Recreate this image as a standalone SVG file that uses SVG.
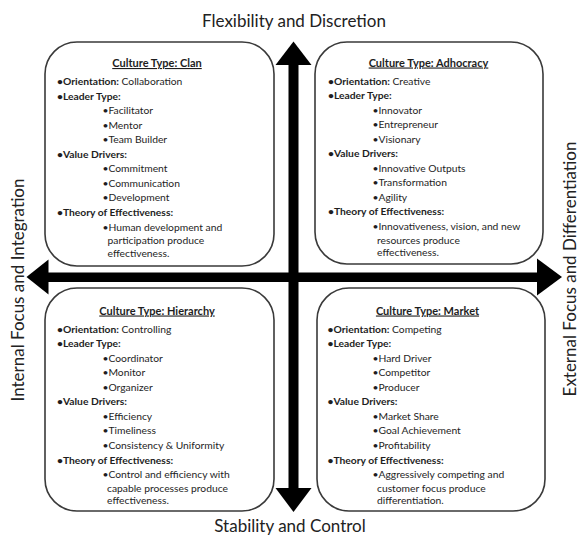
<svg xmlns="http://www.w3.org/2000/svg" width="581" height="536" viewBox="0 0 581 536">
<style>
.box{fill:#fff;stroke:#3a3a3a;stroke-width:1.6}
text{font-family:Lato,"Liberation Sans",sans-serif;fill:#1e1e1e}
.t{font-size:11px;font-weight:bold;text-anchor:middle;text-decoration:underline}
.b{font-size:10.3px}
.h{font-weight:bold}
.ax{font-size:17px;fill:#222}
.arr{fill:#000}
</style>
<rect width="581" height="536" fill="#fff"/>
<g id="connectors">
<rect class="arr" x="288.5" y="62" width="10" height="430"/>
<polygon class="arr" points="293.5,41.5 311.5,65 275.5,65"/>
<polygon class="arr" points="293.5,512 311.5,488 275.5,488"/>
<rect class="arr" x="45" y="272.5" width="495" height="9.5"/>
<polygon class="arr" points="26.5,277 48.5,259.5 48.5,294.5"/>
<polygon class="arr" points="562,277 537,258.5 537,295.5"/>
</g>
<g id="clan">
<rect class="box" x="45" y="42" width="229" height="224" rx="32"/>
<text class="t" x="157" y="67">Culture Type: Clan</text>
<g class="b">
<text x="57" y="85"><tspan class="h">•Orientation:</tspan> Collaboration</text>
<text x="57" y="99.5" class="h">•Leader Type:</text>
<text x="102.5" y="114">•Facilitator</text>
<text x="102.5" y="128.5">•Mentor</text>
<text x="102.5" y="143">•Team Builder</text>
<text x="57" y="157.5" class="h">•Value Drivers:</text>
<text x="102.5" y="172">•Commitment</text>
<text x="102.5" y="186.5">•Communication</text>
<text x="102.5" y="201">•Development</text>
<text x="57" y="215.5" class="h">•Theory of Effectiveness:</text>
<text x="102.5" y="230.5">•Human development and</text>
<text x="107.5" y="244">participation produce</text>
<text x="107.5" y="256.5">effectiveness.</text>
</g>
</g>
<g id="adhocracy">
<rect class="box" x="315" y="42" width="228" height="222" rx="32"/>
<text class="t" x="428.5" y="66.5">Culture Type: Adhocracy</text>
<g class="b">
<text x="328" y="84.5"><tspan class="h">•Orientation:</tspan> Creative</text>
<text x="328" y="99" class="h">•Leader Type:</text>
<text x="372.5" y="113.5">•Innovator</text>
<text x="372.5" y="128">•Entrepreneur</text>
<text x="372.5" y="142.5">•Visionary</text>
<text x="328" y="157" class="h">•Value Drivers:</text>
<text x="372.5" y="171.5">•Innovative Outputs</text>
<text x="372.5" y="186">•Transformation</text>
<text x="372.5" y="200.5">•Agility</text>
<text x="328" y="215" class="h">•Theory of Effectiveness:</text>
<text x="372.5" y="230">•Innovativeness, vision, and new</text>
<text x="377" y="243.5">resources produce</text>
<text x="377" y="256">effectiveness.</text>
</g>
</g>
<g id="hierarchy">
<rect class="box" x="45" y="288" width="229" height="223" rx="32"/>
<text class="t" x="157" y="314.5">Culture Type: Hierarchy</text>
<g class="b">
<text x="57" y="332.5"><tspan class="h">•Orientation:</tspan> Controlling</text>
<text x="57" y="347" class="h">•Leader Type:</text>
<text x="102.5" y="361.5">•Coordinator</text>
<text x="102.5" y="376">•Monitor</text>
<text x="102.5" y="390.5">•Organizer</text>
<text x="57" y="405" class="h">•Value Drivers:</text>
<text x="102.5" y="419.5">•Efficiency</text>
<text x="102.5" y="434">•Timeliness</text>
<text x="102.5" y="448.5">•Consistency &amp; Uniformity</text>
<text x="57" y="463.5" class="h">•Theory of Effectiveness:</text>
<text x="102.5" y="478">•Control and efficiency with</text>
<text x="107" y="491.5">capable processes produce</text>
<text x="107" y="504">effectiveness.</text>
</g>
</g>
<g id="market">
<rect class="box" x="317" y="288" width="228" height="223" rx="32"/>
<text class="t" x="427.5" y="314.5">Culture Type: Market</text>
<g class="b">
<text x="327.5" y="332.5"><tspan class="h">•Orientation:</tspan> Competing</text>
<text x="327.5" y="347" class="h">•Leader Type:</text>
<text x="372.5" y="361.5">•Hard Driver</text>
<text x="372.5" y="376">•Competitor</text>
<text x="372.5" y="390.5">•Producer</text>
<text x="327.5" y="405" class="h">•Value Drivers:</text>
<text x="372.5" y="419.5">•Market Share</text>
<text x="372.5" y="434">•Goal Achievement</text>
<text x="372.5" y="448.5">•Profitability</text>
<text x="327.5" y="463.5" class="h">•Theory of Effectiveness:</text>
<text x="372.5" y="478">•Aggressively competing and</text>
<text x="377" y="491.5">customer focus produce</text>
<text x="377" y="504">differentiation.</text>
</g>
</g>
<g id="labels">
<text class="ax" x="294" y="27" text-anchor="middle">Flexibility and Discretion</text>
<text class="ax" x="290" y="532" text-anchor="middle">Stability and Control</text>
<text class="ax" transform="translate(24,290) rotate(-90)" text-anchor="middle">Internal Focus and Integration</text>
<text class="ax" transform="translate(576,269) rotate(-90)" text-anchor="middle">External Focus and Differentiation</text>
</g>
</svg>
